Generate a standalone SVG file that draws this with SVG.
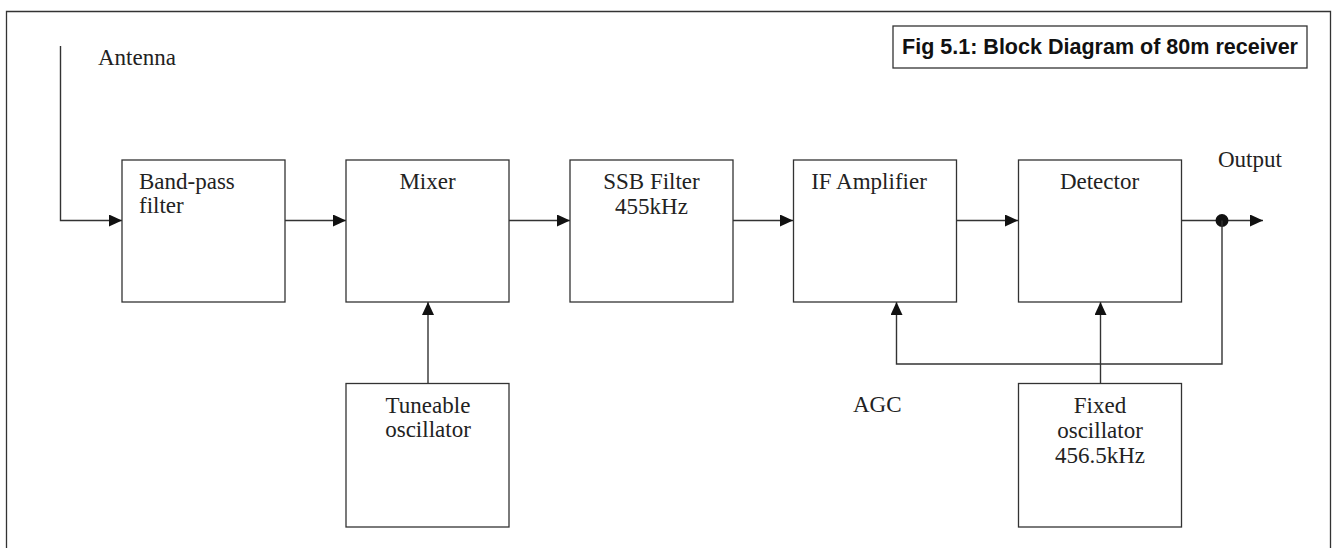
<svg xmlns="http://www.w3.org/2000/svg" width="1334" height="548" viewBox="0 0 1334 548">
  <style>
    .box { fill: #ffffff; stroke: #333333; stroke-width: 1.3; }
    .wire { fill: none; stroke: #333333; stroke-width: 1.4; }
    .lbl { font-family: "Liberation Serif", "Times New Roman", serif; font-size: 23px; fill: #222222; }
    .mid { text-anchor: middle; }
    .title { font-family: "Liberation Sans", Arial, sans-serif; font-size: 21.5px; font-weight: bold; fill: #111111; }
  </style>
  <defs>
    <marker id="ah" markerUnits="userSpaceOnUse" markerWidth="14" markerHeight="13" refX="13" refY="6" orient="auto">
      <path d="M0,0 L13,6 L0,12 z" fill="#111111"/>
    </marker>
  </defs>
  <rect x="0" y="0" width="1334" height="548" fill="#ffffff"/>
  <path d="M6.5,548 L6.5,11.5 L1330.5,11.5 L1330.5,548" fill="none" stroke="#333333" stroke-width="1.3"/>

  <g id="title">
    <rect class="box" x="893" y="26" width="414" height="42"/>
    <text class="title" x="902" y="54" textLength="396" lengthAdjust="spacingAndGlyphs">Fig 5.1: Block Diagram of 80m receiver</text>
  </g>

  <g id="connectors">
    <path class="wire" d="M60.5,46 L60.5,220.5 L122,220.5" marker-end="url(#ah)"/>
    <path class="wire" d="M285,220.5 L346,220.5" marker-end="url(#ah)"/>
    <path class="wire" d="M509,220.5 L570,220.5" marker-end="url(#ah)"/>
    <path class="wire" d="M733,220.5 L793,220.5" marker-end="url(#ah)"/>
    <path class="wire" d="M957,220.5 L1018,220.5" marker-end="url(#ah)"/>
    <path class="wire" d="M1181,220.5 L1263,220.5" marker-end="url(#ah)"/>
    <circle cx="1222" cy="220.5" r="6.5" fill="#111111"/>
    <path class="wire" d="M1222,220.5 L1222,364 L896.5,364 L896.5,302" marker-end="url(#ah)"/>
    <path class="wire" d="M428,383 L428,302" marker-end="url(#ah)"/>
    <path class="wire" d="M1100.5,383 L1100.5,302" marker-end="url(#ah)"/>
  </g>

  <g id="antenna">
    <text class="lbl" x="98" y="65">Antenna</text>
  </g>

  <g id="bandpass">
    <rect class="box" x="122" y="160" width="163" height="142"/>
    <text class="lbl" x="139" y="189">Band-pass</text>
    <text class="lbl" x="139" y="213">filter</text>
  </g>

  <g id="mixer">
    <rect class="box" x="346" y="160" width="163" height="142"/>
    <text class="lbl mid" x="427.5" y="189">Mixer</text>
  </g>

  <g id="ssb">
    <rect class="box" x="570" y="160" width="163" height="142"/>
    <text class="lbl mid" x="651.5" y="189">SSB Filter</text>
    <text class="lbl mid" x="651.5" y="214">455kHz</text>
  </g>

  <g id="ifamp">
    <rect class="box" x="793.5" y="160" width="163" height="142"/>
    <text class="lbl mid" x="869" y="189">IF Amplifier</text>
  </g>

  <g id="detector">
    <rect class="box" x="1018.5" y="160" width="163" height="142"/>
    <text class="lbl mid" x="1099.5" y="189">Detector</text>
  </g>

  <g id="output">
    <text class="lbl" x="1218" y="167">Output</text>
  </g>

  <g id="tuneable">
    <rect class="box" x="346" y="383.5" width="163" height="143.5"/>
    <text class="lbl mid" x="428" y="413">Tuneable</text>
    <text class="lbl mid" x="428" y="437">oscillator</text>
  </g>

  <g id="agc">
    <text class="lbl" x="853" y="412">AGC</text>
  </g>

  <g id="fixed">
    <rect class="box" x="1018.5" y="383.5" width="163" height="143.5"/>
    <text class="lbl mid" x="1100" y="413">Fixed</text>
    <text class="lbl mid" x="1100" y="438">oscillator</text>
    <text class="lbl mid" x="1100" y="463">456.5kHz</text>
  </g>
</svg>
